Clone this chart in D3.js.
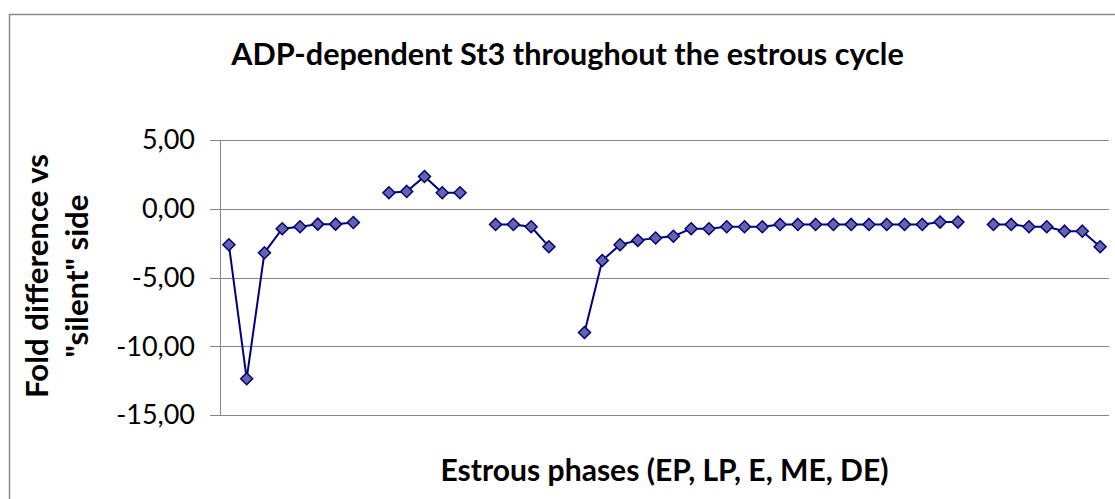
<!DOCTYPE html>
<meta charset="utf-8">
<style>
  body { margin: 0; background: #fff; }
  text { font-family: Lato, "Open Sans", sans-serif; }
</style>
<svg width="1115" height="499"></svg>
<script src="https://cdn.jsdelivr.net/npm/d3@7"></script>
<script>

// fold difference per sample, null = no value (gap between phases)
var values = [
  -2.62, -12.36, -3.2, -1.45, -1.31, -1.12, -1.12, -1.0,
  null,
  1.16, 1.26, 2.35, 1.16, 1.16,
  null,
  -1.14, -1.14, -1.31, -2.76,
  null,
  -9.0, -3.76, -2.62, -2.3, -2.13, -2.0, -1.45, -1.45, -1.31, -1.31, -1.31,
  -1.14, -1.14, -1.14, -1.14, -1.14, -1.14, -1.14, -1.14, -1.14, -0.97, -0.97,
  null,
  -1.14, -1.14, -1.31, -1.31, -1.63, -1.63, -2.76
];
var yTicks = [5, 0, -5, -10, -15];

var title = "ADP-dependent St3 throughout the estrous cycle";
var yTitle = ["Fold difference vs", "\"silent\" side"];
var xTitle = "Estrous phases (EP, LP, E, ME, DE)";

var svg = d3.select("svg"),
    width = +svg.attr("width"),
    height = +svg.attr("height");

var plot = { left: 220, right: 1109, top: 140, bottom: 415 };

// comma as decimal mark, plain hyphen minus
var fmt = d3.formatLocale({ decimal: ",", thousands: ".", grouping: [3], currency: ["", ""], minus: "-" }).format(".2f");

var x = d3.scaleBand()
    .domain(d3.range(values.length))
    .range([plot.left, plot.right]);

var y = d3.scaleLinear()
    .domain([-15, 5])
    .range([plot.bottom, plot.top]);

// scale a text's font so it spans the given width
function fit(sel, w) {
  var fs = parseFloat(sel.style("font-size"));
  var len = sel.node().getComputedTextLength();
  sel.style("font-size", (fs * w / len) + "px");
  return sel;
}

// chart frame
svg.append("rect")
    .attr("x", 9.5).attr("y", 14.5)
    .attr("width", 1200).attr("height", 600)
    .attr("fill", "#fff")
    .attr("stroke", "#8c8c8c")
    .attr("stroke-width", 1.5);

// gridlines
svg.append("g")
  .selectAll("line")
    .data(yTicks)
  .enter().append("line")
    .attr("x1", plot.left - 10)
    .attr("x2", plot.right)
    .attr("y1", function(d) { return Math.round(y(d)) + 0.5; })
    .attr("y2", function(d) { return Math.round(y(d)) + 0.5; })
    .attr("stroke", "#868686");

svg.append("line")
    .attr("x1", plot.left + 0.5).attr("x2", plot.left + 0.5)
    .attr("y1", plot.top).attr("y2", plot.bottom)
    .attr("stroke", "#868686");

// y tick labels
svg.append("g")
  .selectAll("text")
    .data(yTicks)
  .enter().append("text")
    .attr("x", 195)
    .attr("y", function(d) { return y(d); })
    .attr("dy", "0.35em")
    .attr("text-anchor", "end")
    .style("font-size", "27px")
    .attr("fill", "#000")
    .text(fmt);

// titles
svg.append("text")
    .attr("x", 567.5).attr("y", 65)
    .attr("text-anchor", "middle")
    .style("font-weight", "bold").style("font-size", "24px")
    .text(title)
    .call(fit, 673);

svg.append("text")
    .attr("x", 664.5).attr("y", 481)
    .attr("text-anchor", "middle")
    .style("font-weight", "bold").style("font-size", "22px")
    .text(xTitle)
    .call(fit, 448);

var yt = svg.append("g")
    .attr("transform", "translate(0,276) rotate(-90)");
yt.append("text")
    .attr("x", 0).attr("y", 48)
    .attr("text-anchor", "middle")
    .style("font-weight", "bold").style("font-size", "24px")
    .text(yTitle[0])
    .call(fit, 244);
yt.append("text")
    .attr("x", 0).attr("y", 88)
    .attr("text-anchor", "middle")
    .style("font-weight", "bold").style("font-size", "24px")
    .text(yTitle[1])
    .call(fit, 163);

// series
var cx = function(d, i) { return x(i) + x.bandwidth() / 2; };

var line = d3.line()
    .defined(function(d) { return d != null; })
    .x(cx)
    .y(function(d) { return y(d); });

svg.append("path")
    .datum(values)
    .attr("fill", "none")
    .attr("stroke", "#000080")
    .attr("stroke-width", 2)
    .attr("d", line);

svg.append("g")
  .selectAll("path")
    .data(values.map(function(v, i) { return { v: v, i: i }; }).filter(function(d) { return d.v != null; }))
  .enter().append("path")
    .attr("transform", function(d) { return "translate(" + cx(d.v, d.i) + "," + y(d.v) + ")"; })
    .attr("d", "M0,-6L6,0L0,6L-6,0Z")
    .attr("fill", "#6464a6")
    .attr("stroke", "#000080")
    .attr("stroke-width", 1.5);

</script>
